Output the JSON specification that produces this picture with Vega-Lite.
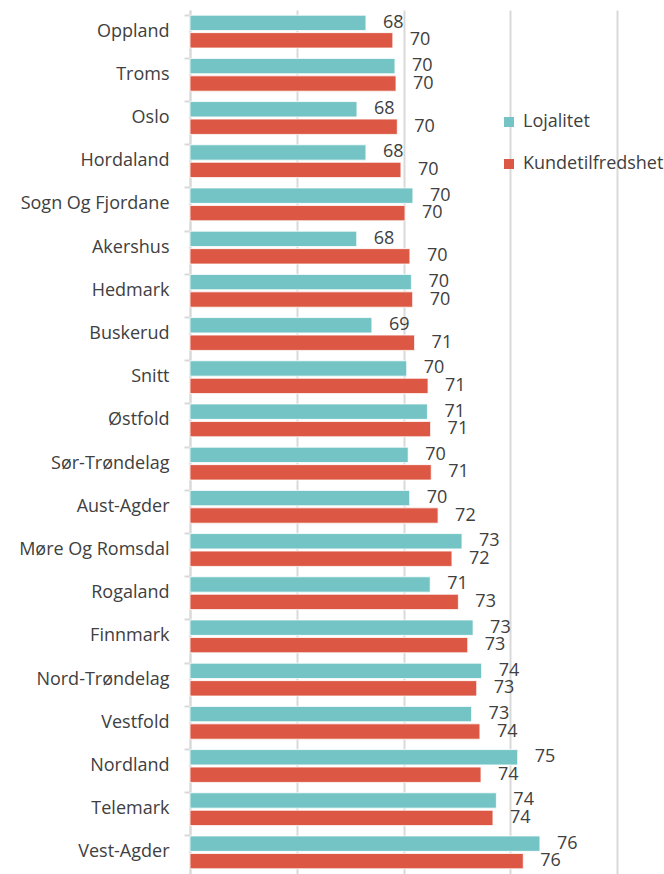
{
  "$schema": "https://vega.github.io/schema/vega-lite/v6.json",
  "width": 427,
  "height": 864,
  "autosize": {"type": "none"},
  "padding": {"left": 190, "top": 10, "right": 47, "bottom": 0},
  "background": "white",
  "config": {
    "view": {"stroke": null},
    "font": "Open Sans"
  },
  "data": {
    "values": [
      {"region": "Oppland", "serie": "Lojalitet", "value": 68.24},
      {"region": "Oppland", "serie": "Kundetilfredshet", "value": 69.5},
      {"region": "Troms", "serie": "Lojalitet", "value": 69.6},
      {"region": "Troms", "serie": "Kundetilfredshet", "value": 69.65},
      {"region": "Oslo", "serie": "Lojalitet", "value": 67.82},
      {"region": "Oslo", "serie": "Kundetilfredshet", "value": 69.71},
      {"region": "Hordaland", "serie": "Lojalitet", "value": 68.24},
      {"region": "Hordaland", "serie": "Kundetilfredshet", "value": 69.88},
      {"region": "Sogn Og Fjordane", "serie": "Lojalitet", "value": 70.44},
      {"region": "Sogn Og Fjordane", "serie": "Kundetilfredshet", "value": 70.07},
      {"region": "Akershus", "serie": "Lojalitet", "value": 67.81},
      {"region": "Akershus", "serie": "Kundetilfredshet", "value": 70.3},
      {"region": "Hedmark", "serie": "Lojalitet", "value": 70.37},
      {"region": "Hedmark", "serie": "Kundetilfredshet", "value": 70.43},
      {"region": "Buskerud", "serie": "Lojalitet", "value": 68.52},
      {"region": "Buskerud", "serie": "Kundetilfredshet", "value": 70.52},
      {"region": "Snitt", "serie": "Lojalitet", "value": 70.15},
      {"region": "Snitt", "serie": "Kundetilfredshet", "value": 71.15},
      {"region": "Østfold", "serie": "Lojalitet", "value": 71.12},
      {"region": "Østfold", "serie": "Kundetilfredshet", "value": 71.27},
      {"region": "Sør-Trøndelag", "serie": "Lojalitet", "value": 70.22},
      {"region": "Sør-Trøndelag", "serie": "Kundetilfredshet", "value": 71.3},
      {"region": "Aust-Agder", "serie": "Lojalitet", "value": 70.29},
      {"region": "Aust-Agder", "serie": "Kundetilfredshet", "value": 71.62},
      {"region": "Møre Og Romsdal", "serie": "Lojalitet", "value": 72.74},
      {"region": "Møre Og Romsdal", "serie": "Kundetilfredshet", "value": 72.27},
      {"region": "Rogaland", "serie": "Lojalitet", "value": 71.25},
      {"region": "Rogaland", "serie": "Kundetilfredshet", "value": 72.57},
      {"region": "Finnmark", "serie": "Lojalitet", "value": 73.26},
      {"region": "Finnmark", "serie": "Kundetilfredshet", "value": 73.01},
      {"region": "Nord-Trøndelag", "serie": "Lojalitet", "value": 73.66},
      {"region": "Nord-Trøndelag", "serie": "Kundetilfredshet", "value": 73.43},
      {"region": "Vestfold", "serie": "Lojalitet", "value": 73.19},
      {"region": "Vestfold", "serie": "Kundetilfredshet", "value": 73.58},
      {"region": "Nordland", "serie": "Lojalitet", "value": 75.35},
      {"region": "Nordland", "serie": "Kundetilfredshet", "value": 73.63},
      {"region": "Telemark", "serie": "Lojalitet", "value": 74.35},
      {"region": "Telemark", "serie": "Kundetilfredshet", "value": 74.19},
      {"region": "Vest-Agder", "serie": "Lojalitet", "value": 76.39},
      {"region": "Vest-Agder", "serie": "Kundetilfredshet", "value": 75.61}
    ]
  },
  "encoding": {
    "y": {
      "field": "region",
      "type": "nominal",
      "sort": null,
      "title": null,
      "scale": {"paddingInner": 0.24, "paddingOuter": 0.12},
      "axis": {
        "bandPosition": 0,
        "labelFontSize": 18,
        "labelColor": "#404040",
        "labelPadding": 15,
        "labelFont": "Open Sans",
        "domainColor": "#d9d9d9",
        "domainWidth": 2,
        "tickColor": "#d9d9d9",
        "tickWidth": 2,
        "tickSize": 6,
        "grid": false
      }
    },
    "yOffset": {
      "field": "serie",
      "type": "nominal",
      "scale": {"domain": ["Lojalitet", "Kundetilfredshet"], "paddingInner": 0.12}
    }
  },
  "layer": [
    {
      "mark": {"type": "bar", "stroke": "white", "strokeWidth": 0.8},
      "encoding": {
        "x": {
          "field": "value",
          "type": "quantitative",
          "title": null,
          "scale": {"domain": [60, 80], "nice": false, "zero": false},
          "axis": {
            "values": [60, 65, 70, 75, 80],
            "labels": false,
            "ticks": false,
            "domain": false,
            "grid": true,
            "gridColor": "#d9d9d9",
            "gridWidth": 2
          }
        },
        "x2": {"datum": 60},
        "color": {
          "field": "serie",
          "type": "nominal",
          "scale": {"domain": ["Lojalitet", "Kundetilfredshet"], "range": ["#75C4C5", "#DD5844"]},
          "legend": {
            "title": null,
            "orient": "none",
            "legendX": 310,
            "legendY": 103,
            "symbolType": "square",
            "symbolSize": 100,
            "symbolStrokeWidth": 0,
            "labelFontSize": 18,
            "labelColor": "#404040",
            "labelFont": "Open Sans",
            "rowPadding": 24,
            "labelOffset": 5
          }
        }
      }
    },
    {
      "mark": {"type": "text", "align": "left", "baseline": "middle", "dx": 17, "fontSize": 18, "color": "#404040", "font": "Open Sans"},
      "encoding": {
        "x": {"field": "value", "type": "quantitative"},
        "text": {"field": "value", "type": "quantitative", "format": ".0f"}
      }
    }
  ]
}
